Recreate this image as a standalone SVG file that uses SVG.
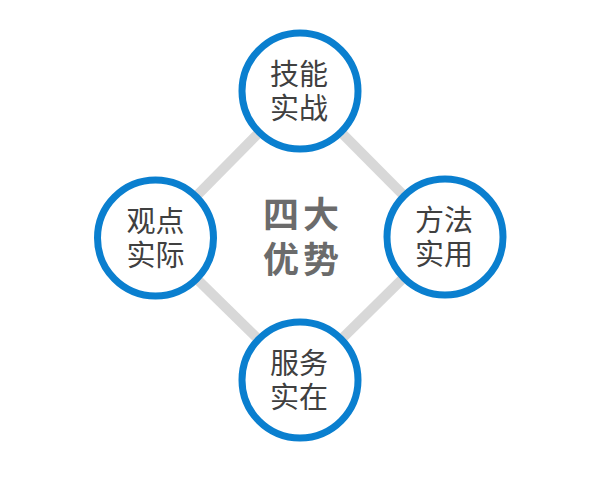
<svg xmlns="http://www.w3.org/2000/svg" width="600" height="500" viewBox="0 0 600 500">
<style>
.node circle{fill:#fff;stroke:#0a7fcf;stroke-width:7}
.node text{font-family:"Noto Sans CJK SC","Noto Sans",sans-serif;font-size:29px;fill:#404040;text-anchor:middle}
.conn line{stroke:#d8d8d8;stroke-width:10}
.title{font-family:"Noto Sans CJK SC","Noto Sans",sans-serif;font-size:36px;font-weight:bold;fill:#6b6b6b;text-anchor:middle;letter-spacing:4px}
</style>
<rect width="600" height="500" fill="#fff"/>
<g id="connectors" class="conn">
<line x1="300" y1="91" x2="445" y2="237"/>
<line x1="445" y1="237" x2="300" y2="380"/>
<line x1="300" y1="380" x2="155" y2="238"/>
<line x1="155" y1="238" x2="300" y2="91"/>
</g>
<g id="center">
<text class="title" x="303" y="228">四大</text>
<text class="title" x="303" y="273">优势</text>
</g>
<g id="node-top" class="node">
<circle cx="300" cy="91" r="58"/>
<text x="299" y="85">技能</text>
<text x="299" y="119">实战</text>
</g>
<g id="node-left" class="node">
<circle cx="155.5" cy="238" r="58"/>
<text x="155.5" y="232">观点</text>
<text x="155.5" y="266">实际</text>
</g>
<g id="node-right" class="node">
<circle cx="445" cy="237" r="58"/>
<text x="444" y="231">方法</text>
<text x="444" y="265">实用</text>
</g>
<g id="node-bottom" class="node">
<circle cx="300" cy="380" r="58"/>
<text x="299" y="374">服务</text>
<text x="299" y="408">实在</text>
</g>
</svg>
